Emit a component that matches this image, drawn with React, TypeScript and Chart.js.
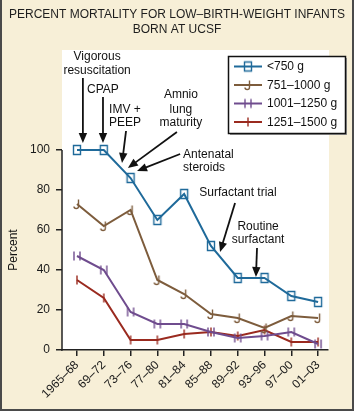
import React, { useEffect, useRef } from "react";
import { Chart, registerables } from "chart.js";

Chart.register(...registerables);

const periods = ["1965–68", "69–72", "73–76", "77–80", "81–84", "85–88", "89–92", "93–96", "97–00", "01–03"];
const seriesLabels = ["<750 g", "751–1000 g", "1001–1250 g", "1251–1500 g"];
const under750 = [100, 100, 86, 65, 78, 52, 36, 36, 27, 24];
const w751to1000 = [73, 62, 70, 35, 28, 18, 16, 11, 17, 16];
const w1001to1250 = [47, 40, 19, 13, 13, 9, 6, 7, 9, 3];
const w1251to1500 = [35, 26, 5, 5, 8, 9, 7, 10, 4, 4];
const yTicks = [0, 20, 40, 60, 80, 100];
const seriesColors = ["#1f6a9a", "#7d5c3c", "#6f4c8e", "#9a2a1f"];
const seriesMarkers = ["B", "J", "H", "I"];
const titleLines = ["PERCENT MORTALITY FOR LOW–BIRTH-WEIGHT INFANTS", "BORN AT UCSF"];
const yTitle = "Percent";

// annotations in data units (x = period index, y = percent)
const annotations = [
  { lines: ["Vigorous", "resuscitation"], x: 0.75, ys: [146.5, 139.5], align: "center", arrow: [0.22, 136, 0.22, 103.5] },
  { lines: ["CPAP"], x: 0.97, ys: [130], align: "center", arrow: [0.97, 126.5, 0.97, 103.5] },
  { lines: ["IMV +", "PEEP"], x: 1.79, ys: [120, 113.5], align: "center", arrow: [1.83, 109.5, 1.68, 93.5] },
  { lines: ["Amnio", "lung", "maturity"], x: 3.88, ys: [127.5, 120, 113.5], align: "center", arrow: [3.73, 109, 1.9, 91] },
  { lines: ["Antenatal", "steroids"], x: 3.96, ys: [97.5, 91], align: "left", arrow: [3.85, 98, 2.24, 89.5] },
  { lines: ["Surfactant trial"], x: 6.01, ys: [78.5], align: "center", arrow: [5.9, 73.5, 5.34, 49] },
  { lines: ["Routine", "surfactant"], x: 6.76, ys: [61.5, 55], align: "center", arrow: [6.72, 51, 6.68, 36.5] },
];

const FONT = "'Liberation Sans', Arial, Helvetica, sans-serif";

function makeMarker(kind: string, color: string): HTMLCanvasElement {
  const c = document.createElement("canvas");
  c.width = 14;
  c.height = 14;
  const g = c.getContext("2d")!;
  g.strokeStyle = color;
  g.lineWidth = 1.4;
  g.translate(7, 7);
  g.beginPath();
  if (kind === "B") {
    g.rect(-3.5, -4.5, 7, 9);
  } else if (kind === "J") {
    g.moveTo(1.5, -4.5);
    g.lineTo(1.5, 2);
    g.quadraticCurveTo(1.5, 4.5, -0.8, 4.5);
    g.quadraticCurveTo(-3, 4.5, -3, 2.5);
  } else if (kind === "H") {
    g.moveTo(-3, -4.5);
    g.lineTo(-3, 4.5);
    g.moveTo(3, -4.5);
    g.lineTo(3, 4.5);
  } else {
    g.moveTo(0, -4.5);
    g.lineTo(0, 4.5);
  }
  g.stroke();
  return c;
}

function drawArrow(ctx: CanvasRenderingContext2D, x1: number, y1: number, x2: number, y2: number) {
  const a = Math.atan2(y2 - y1, x2 - x1);
  const L = 10;
  const W = 4.2;
  ctx.beginPath();
  ctx.moveTo(x1, y1);
  ctx.lineTo(x2 - L * 0.7 * Math.cos(a), y2 - L * 0.7 * Math.sin(a));
  ctx.stroke();
  ctx.beginPath();
  ctx.moveTo(x2, y2);
  ctx.lineTo(x2 - L * Math.cos(a) + W * Math.sin(a), y2 - L * Math.sin(a) - W * Math.cos(a));
  ctx.lineTo(x2 - L * Math.cos(a) - W * Math.sin(a), y2 - L * Math.sin(a) + W * Math.cos(a));
  ctx.closePath();
  ctx.fill();
}

export default function App() {
  const ref = useRef<HTMLCanvasElement | null>(null);

  useEffect(() => {
    document.body.style.margin = "0";
    const canvas = ref.current!;
    const markers = seriesMarkers.map((m, i) => makeMarker(m, seriesColors[i]));
    const seriesData = [under750, w751to1000, w1001to1250, w1251to1500];

    const decor = {
      id: "decor",
      beforeDraw(chart: any) {
        const { ctx, chartArea } = chart;
        ctx.save();
        ctx.fillStyle = "#f7efd7";
        ctx.fillRect(0, 0, chart.width, chart.height);
        ctx.fillStyle = "#ffffff";
        ctx.fillRect(chartArea.left, chartArea.top, chartArea.right - chartArea.left + 1, chartArea.bottom - chartArea.top);
        // title
        ctx.fillStyle = "#1e1e1e";
        ctx.font = `12px ${FONT}`;
        ctx.textAlign = "center";
        ctx.textBaseline = "middle";
        ctx.fillText(titleLines[0], 177, 15);
        ctx.fillText(titleLines[1], 177, 30);
        ctx.restore();
      },
      afterDatasetsDraw(chart: any) {
        const { ctx } = chart;
        const xs = chart.scales.x;
        const ys = chart.scales.y;
        ctx.save();
        // y axis line 0..100
        ctx.strokeStyle = "#222";
        ctx.lineWidth = 1.5;
        ctx.beginPath();
        ctx.moveTo(chart.chartArea.left, ys.getPixelForValue(0) + 0.75);
        ctx.lineTo(chart.chartArea.left, ys.getPixelForValue(100));
        ctx.stroke();
        // annotations
        ctx.fillStyle = "#111";
        ctx.strokeStyle = "#111";
        ctx.lineWidth = 1.8;
        ctx.font = `12px ${FONT}`;
        ctx.textBaseline = "middle";
        annotations.forEach((an) => {
          ctx.textAlign = an.align as CanvasTextAlign;
          an.lines.forEach((t, i) => {
            ctx.fillText(t, xs.getPixelForValue(an.x), ys.getPixelForValue(an.ys[i]));
          });
          const [ax1, ay1, ax2, ay2] = an.arrow;
          drawArrow(ctx, xs.getPixelForValue(ax1), ys.getPixelForValue(ay1), xs.getPixelForValue(ax2), ys.getPixelForValue(ay2));
        });
        // y title
        ctx.save();
        ctx.translate(14, ys.getPixelForValue(50));
        ctx.rotate(-Math.PI / 2);
        ctx.textAlign = "center";
        ctx.fillText(yTitle, 0, 0);
        ctx.restore();
        ctx.restore();
      },
      afterDraw(chart: any) {
        const { ctx } = chart;
        ctx.save();
        // legend box
        const bx = 228, by = 56, bw = 117, bh = 77;
        ctx.fillStyle = "#9a9a9a";
        ctx.fillRect(bx + 2, by + 2, bw, bh);
        ctx.fillStyle = "#ffffff";
        ctx.fillRect(bx, by, bw, bh);
        ctx.strokeStyle = "#111";
        ctx.lineWidth = 1.5;
        ctx.strokeRect(bx + 0.5, by + 0.5, bw, bh);
        chart.data.datasets.forEach((ds: any, i: number) => {
          const y = 66.5 + i * 18.5;
          ctx.strokeStyle = ds.borderColor;
          ctx.lineWidth = 2;
          ctx.beginPath();
          ctx.moveTo(234, y);
          ctx.lineTo(262, y);
          ctx.stroke();
          const m = markers[i];
          ctx.drawImage(m, 248 - m.width / 2, y - m.height / 2);
          ctx.fillStyle = "#111";
          ctx.font = `12px ${FONT}`;
          ctx.textAlign = "left";
          ctx.textBaseline = "middle";
          ctx.fillText(ds.label, 267, y + 0.5);
        });
        // frame
        ctx.fillStyle = "#4a4a4a";
        ctx.fillRect(0, 0, 2, chart.height);
        ctx.fillRect(chart.width - 2, 0, 2, chart.height);
        ctx.fillRect(0, chart.height - 2, chart.width, 2);
        ctx.restore();
      },
    };

    const chart = new Chart(canvas, {
      type: "line",
      data: {
        datasets: seriesData.map((d, i) => ({
          label: seriesLabels[i],
          data: d.map((v, j) => ({ x: j, y: v })),
          borderColor: seriesColors[i],
          backgroundColor: seriesColors[i],
          borderWidth: 2,
          pointStyle: markers[i] as any,
          pointRadius: 5,
          tension: 0,
          fill: false,
        })),
      },
      options: {
        animation: false,
        responsive: false,
        maintainAspectRatio: false,
        layout: { padding: { top: 50, right: 26, left: 0, bottom: 0 } },
        plugins: {
          legend: { display: false },
          title: { display: false },
          tooltip: { enabled: false },
        },
        scales: {
          x: {
            type: "linear",
            min: -0.56,
            max: 9.37,
            afterBuildTicks: (s: any) => {
              s.ticks = periods.map((_, i) => ({ value: i }));
            },
            afterFit: (s: any) => {
              s.height = 61;
            },
            ticks: {
              autoSkip: false,
              minRotation: 45,
              maxRotation: 45,
              padding: 2,
              color: "#1a1a1a",
              font: { family: FONT, size: 12 },
              callback: (v: any) => periods[Math.round(Number(v))],
            },
            grid: { drawOnChartArea: false, drawTicks: true, tickLength: 6, color: "#222", lineWidth: 1.5 },
            border: { display: true, color: "#222", width: 1.5 },
          },
          y: {
            min: 0,
            max: 150,
            afterBuildTicks: (s: any) => {
              s.ticks = yTicks.map((v) => ({ value: v }));
            },
            afterFit: (s: any) => {
              s.width = 62;
            },
            ticks: {
              padding: 6,
              color: "#1a1a1a",
              font: { family: FONT, size: 12 },
            },
            grid: { drawOnChartArea: false, drawTicks: true, tickLength: 6, color: "#222", lineWidth: 1.5 },
            border: { display: false },
          },
        },
      },
      plugins: [decor],
    } as any);

    return () => chart.destroy();
  }, []);

  return (
    <div style={{ width: 354, height: 411 }}>
      <canvas ref={ref} width={354} height={411} style={{ display: "block", width: 354, height: 411 }} />
    </div>
  );
}
